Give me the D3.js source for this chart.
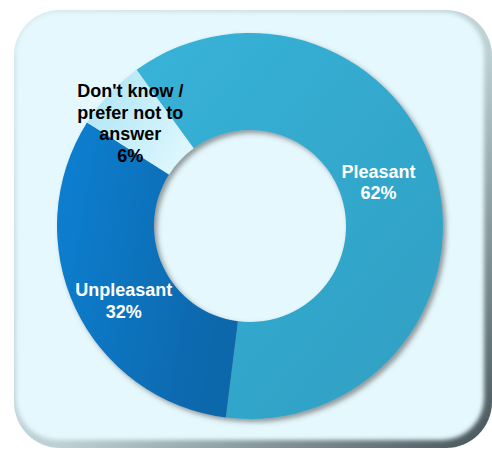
<!DOCTYPE html>
<html>
<head>
<meta charset="utf-8">
<script src="https://cdn.jsdelivr.net/npm/d3@7/dist/d3.min.js"></script>
<style>
  html, body { margin: 0; padding: 0; background: #ffffff; }
  svg { display: block; }
</style>
</head>
<body>
<script>
// Survey answers shown as a ring
const categories = ["Pleasant", "Unpleasant", "Don't know / prefer not to answer"];
const values = [62, 32, 6];
const labelLines = [["Pleasant"], ["Unpleasant"], ["Don't know /", "prefer not to", "answer"]];
const labelColors = ["#ffffff", "#ffffff", "#000000"];

const W = 492, H = 450;
const cx = 250, cy = 226;
const outerR = 193, innerR = 96;
const labelR = 145;
const lineH = 21.5;
// small shifts so each label sits well inside its slice
const labelNudge = [[-12, -8], [5, 13], [-14, -4]];

const svg = d3.select("body").append("svg")
  .attr("width", W).attr("height", H);

const defs = svg.append("defs");

// panel edge gradient (light top-left, dark bottom-right)
const edge = defs.append("linearGradient").attr("id", "edge")
  .attr("x1", "0").attr("y1", "0").attr("x2", "1").attr("y2", "1");
edge.append("stop").attr("offset", "0%").attr("stop-color", "#d6eaee");
edge.append("stop").attr("offset", "55%").attr("stop-color", "#bccfd3");
edge.append("stop").attr("offset", "100%").attr("stop-color", "#46545a");

const soft = defs.append("filter").attr("id", "soft")
  .attr("x", "-5%").attr("y", "-5%").attr("width", "110%").attr("height", "110%");
soft.append("feGaussianBlur").attr("stdDeviation", 2.2);

// drop shadow under the ring
const shadow = defs.append("filter").attr("id", "shadow")
  .attr("x", "-10%").attr("y", "-10%").attr("width", "125%").attr("height", "125%");
shadow.append("feGaussianBlur").attr("in", "SourceAlpha").attr("stdDeviation", 2.6).attr("result", "b");
shadow.append("feOffset").attr("in", "b").attr("dx", 3).attr("dy", 3).attr("result", "o");
shadow.append("feFlood").attr("flood-color", "#4a4a4a").attr("flood-opacity", 0.55).attr("result", "c");
shadow.append("feComposite").attr("in", "c").attr("in2", "o").attr("operator", "in").attr("result", "s");
const merge = shadow.append("feMerge");
merge.append("feMergeNode").attr("in", "s");
merge.append("feMergeNode").attr("in", "SourceGraphic");

// slice fills, each shaded across its own extent
const sliceStops = [
  { c: ["#38b3d8", "#2f9ec2"], x2: 1, y2: 1 },
  { c: ["#0c80d2", "#0a67ab"], x2: 1, y2: 0.3 },
  { c: ["#a9e3f5", "#dcf6fd"], x2: 1, y2: 0.6 }
];
sliceStops.forEach((s, i) => {
  const g = defs.append("linearGradient").attr("id", "slice" + i)
    .attr("x1", 0).attr("y1", 0)
    .attr("x2", s.x2).attr("y2", s.y2);
  g.append("stop").attr("offset", "0%").attr("stop-color", s.c[0]);
  g.append("stop").attr("offset", "100%").attr("stop-color", s.c[1]);
});

// background panel
svg.append("rect")
  .attr("x", 14).attr("y", 10).attr("width", 478).attr("height", 438)
  .attr("rx", 46).attr("ry", 46)
  .attr("fill", "url(#edge)");
svg.append("rect")
  .attr("x", 16).attr("y", 12).attr("width", 468).attr("height", 428)
  .attr("rx", 42).attr("ry", 42)
  .attr("fill", "#e5f8fd")
  .attr("filter", "url(#soft)");

// ring
const pie = d3.pie().sort(null)
  .startAngle(-36 * Math.PI / 180)
  .endAngle(324 * Math.PI / 180);
const arcs = pie(values);

const arc = d3.arc().innerRadius(innerR).outerRadius(outerR);
const labelArc = d3.arc().innerRadius(labelR).outerRadius(labelR);

const ring = svg.append("g")
  .attr("transform", `translate(${cx},${cy})`)
  .attr("filter", "url(#shadow)");

ring.selectAll("path")
  .data(arcs)
  .join("path")
  .attr("d", arc)
  .attr("fill", (d, i) => `url(#slice${i})`);

// labels
const labels = svg.append("g").attr("transform", `translate(${cx},${cy})`);
arcs.forEach((d, i) => {
  const [lx, ly] = labelArc.centroid(d);
  const x = lx + labelNudge[i][0];
  const y = ly + labelNudge[i][1];
  const lines = labelLines[i].concat([values[i] + "%"]);
  const first = y - (lines.length - 1) / 2 * lineH + 6.5;
  const t = labels.append("text")
    .attr("text-anchor", "middle")
    .attr("font-family", "'Liberation Sans', Arial, sans-serif")
    .attr("font-weight", "bold")
    .attr("font-size", 18)
    .attr("fill", labelColors[i]);
  lines.forEach((ln, k) => {
    t.append("tspan").attr("x", x).attr("y", first + k * lineH).text(ln);
  });
});
</script>
</body>
</html>
